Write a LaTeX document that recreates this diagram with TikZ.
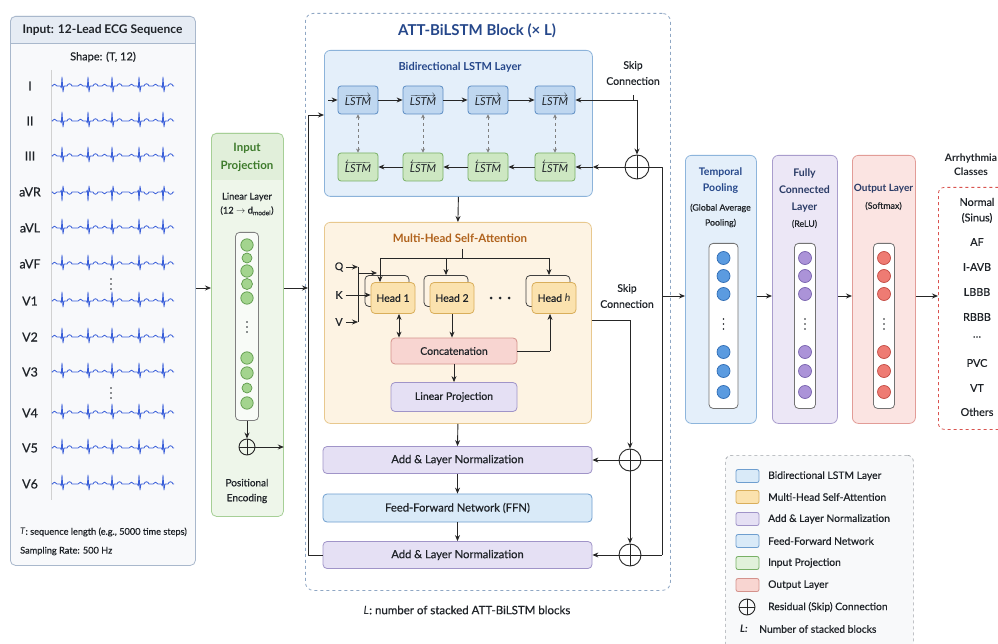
\documentclass[tikz,border=0pt]{standalone}
\usepackage{fontspec}
\setmainfont{Lato}[UprightFeatures={FakeBold=0.5}]
\usetikzlibrary{arrows.meta,calc}
\definecolor{darktx}{HTML}{1F2328}
\definecolor{panelbg}{HTML}{F8F9FB}
\definecolor{panelbd}{HTML}{A9B8CC}
\definecolor{panelhd}{HTML}{E6ECF4}
\definecolor{ecgblue}{HTML}{3A5FD9}
\definecolor{grnbg}{HTML}{EEF6EA}
\definecolor{grnhd}{HTML}{E1EFDA}
\definecolor{grnbd}{HTML}{A6CF96}
\definecolor{grntx}{HTML}{3E7B2C}
\definecolor{grnc}{HTML}{A3D48E}
\definecolor{grncb}{HTML}{5E9A4B}
\definecolor{blkbd}{HTML}{8FA7C4}
\definecolor{titblue}{HTML}{25478A}
\definecolor{lstmbg}{HTML}{E4EFFA}
\definecolor{lstmbd}{HTML}{8CB3DA}
\definecolor{fwbg}{HTML}{BFD7F0}
\definecolor{fwbd}{HTML}{5C8DC4}
\definecolor{bwbg}{HTML}{CDE7C2}
\definecolor{bwbd}{HTML}{78B065}
\definecolor{mhbg}{HTML}{FDF3E3}
\definecolor{mhbd}{HTML}{E8C88E}
\definecolor{mhtx}{HTML}{B0621C}
\definecolor{hdbg}{HTML}{FBE2AE}
\definecolor{hdbd}{HTML}{D9AE5B}
\definecolor{ccbg}{HTML}{F8D5D1}
\definecolor{ccbd}{HTML}{D4928C}
\definecolor{pubg}{HTML}{E5E0F4}
\definecolor{pubd}{HTML}{A094C8}
\definecolor{ffbg}{HTML}{D9EAF8}
\definecolor{ffbd}{HTML}{6E9ECF}
\definecolor{tpbg}{HTML}{E4EFFA}
\definecolor{tpbd}{HTML}{8DB5DC}
\definecolor{tpc}{HTML}{5B9BE0}
\definecolor{tpcb}{HTML}{2E6BB3}
\definecolor{fcbg}{HTML}{ECE7F6}
\definecolor{fcbd}{HTML}{A99DCD}
\definecolor{fcc}{HTML}{AB93D8}
\definecolor{fccb}{HTML}{7862AE}
\definecolor{olbg}{HTML}{FBE4E2}
\definecolor{olbd}{HTML}{E29C97}
\definecolor{olc}{HTML}{EE7B73}
\definecolor{olcb}{HTML}{C34B44}
\definecolor{clsbd}{HTML}{D9534F}
\definecolor{navy}{HTML}{2A3B66}
\definecolor{lgbd}{HTML}{A0A4AA}
\definecolor{lgbg}{HTML}{F8F9FA}
\newcommand\fsz[2]{\fontsize{#1}{#2}\selectfont}
\newcommand\ecgtrace[2]{%
  \draw[ecg] (53,#1) \foreach \c in {62,88,112,139,163}{
    -- ({\c-10},#1) .. controls ({\c-9},{#1-2.5*(#2)}) and ({\c-6},{#1-2.5*(#2)}) .. ({\c-5},#1)
    -- ({\c-1.5},#1) -- ({\c-0.7},{#1+2*(#2)}) -- (\c,{#1-9*(#2)}) -- ({\c+1},{#1+6*(#2)}) -- ({\c+2},#1)
    -- ({\c+5},#1) .. controls ({\c+6},{#1-3*(#2)}) and ({\c+9},{#1-3*(#2)}) .. ({\c+10},#1)} -- (174,#1);
}
\newcommand\vdotsat[2]{% x, y
  \foreach \k in {-5,0,5} \fill[darktx] (#1,{#2+\k}) circle (0.95pt);
}
\newcommand\ncol[6]{% x, width, fill, border, tag, colborder
  \node[draw=#6, fill=white, rounded corners=4pt, line width=0.8pt, minimum width=#2pt, minimum height=165pt, anchor=north, inner sep=0pt] (col#5) at (#1,243) {};
  \foreach \yy in {258,276,294,352,371,392} \draw[fill=#3, draw=#4, line width=0.7pt] (#1,\yy) circle (6.5pt);
  \vdotsat{#1}{324}
}
\tikzset{
  ecg/.style={draw=ecgblue, line width=0.8pt, line join=round},
  arr/.style={-{Stealth[length=6pt,width=5pt]}, line width=0.9pt, draw=black!85},
  ln/.style={line width=0.9pt, draw=black!85},
  txt/.style={inner sep=0pt, align=center, text=darktx},
  oplus/.style={circle, draw=black!85, line width=0.9pt, minimum size=#1, inner sep=0pt,
    path picture={\draw[line width=0.9pt,black!85] (path picture bounding box.north) -- (path picture bounding box.south) (path picture bounding box.west) -- (path picture bounding box.east);}},
  oplus/.default=22pt,
  lstmf/.style={draw=fwbd, fill=fwbg, rounded corners=3pt, line width=0.8pt, minimum width=40pt, minimum height=28pt, inner sep=0pt, font=\fsz{11}{13}, text=darktx},
  lstmb/.style={lstmf, draw=bwbd, fill=bwbg},
  headb/.style={draw=black!75, fill=mhbg, rounded corners=4pt, line width=0.8pt, minimum width=44pt, minimum height=31pt},
  headn/.style={draw=hdbd, fill=hdbg, rounded corners=4pt, line width=0.8pt, minimum width=44pt, minimum height=31pt, inner sep=0pt, font=\fsz{10.5}{12}, text=darktx},
  flat/.style={rounded corners=4pt, line width=0.8pt, inner sep=0pt, font=\fsz{11.2}{13}, text=darktx},
  norm/.style={flat, draw=pubd, fill=pubg, minimum width=269pt, minimum height=27pt},
  ffnb/.style={flat, draw=ffbd, fill=ffbg, minimum width=269pt, minimum height=28pt},
  rpanel/.style={rounded corners=6pt, line width=0.8pt, minimum height=268pt, anchor=north west, inner sep=0pt},
  swatch/.style={rounded corners=2pt, line width=0.8pt, minimum width=23pt, minimum height=13pt, inner sep=0pt},
  lgtxt/.style={txt, anchor=west, font=\fsz{10.3}{12}},
}
\begin{document}
\begin{tikzpicture}[x=1pt,y=-1pt,line join=round]
\useasboundingbox (0,0) rectangle (998,644);
\fill[white] (0,0) rectangle (998,644);

% ---------------- Left input panel
\fill[panelbg, rounded corners=5pt] (10,16) rectangle (195,565);
\fill[panelhd, rounded corners=5pt] (10,16) rectangle (195,43);
\fill[panelhd] (10,35) rectangle (195,43);
\draw[panelbd, line width=0.8pt] (10,43) -- (195,43);
\node[draw=panelbd, line width=0.8pt, rounded corners=5pt, minimum width=185pt, minimum height=549pt, anchor=north west, inner sep=0pt] (inpanel) at (10,16) {};
\node[txt, font=\bfseries\fsz{12}{14}] (intitle) at (102.5,30) {Input: 12-Lead ECG Sequence};
\node[txt, font=\fsz{11}{13}] (shape) at (103,57) {Shape: (T, 12)};
\draw[black!18, line width=0.9pt] (51,70) -- (51,500);
\foreach \nm/\yy/\s [count=\i] in {I/86/1, II/121/1, III/156/1, aVR/192/-1, aVL/228/1, aVF/264/1, V1/301/1, V2/337/1, V3/372/1, V4/413/1, V5/448/1, V6/484/1}{
  \node[txt, font=\fsz{12.5}{14}] (lead\i) at (30,\yy) {\nm};
  \ecgtrace{\yy}{\s}
}
\vdotsat{111}{284}
\vdotsat{111}{393}
\node[txt, anchor=west, font=\fsz{9.2}{11}] (tnote) at (20,532) {\textit{T}: sequence length (e.g., 5000 time steps)};
\node[txt, anchor=west, font=\fsz{9.2}{11}] (srate) at (20,551) {Sampling Rate: 500 Hz};

% ---------------- Input projection
\fill[grnbg, rounded corners=5pt] (211,133) rectangle (283,516);
\fill[grnhd, rounded corners=5pt] (211,133) rectangle (283,180);
\fill[grnhd] (211,172) rectangle (283,180);
\node[draw=grnbd, line width=0.8pt, rounded corners=5pt, minimum width=72pt, minimum height=383pt, anchor=north west, inner sep=0pt] (inproj) at (211,133) {};
\node[txt, font=\bfseries\fsz{11.5}{18}, text=grntx] (iptitle) at (247,157) {Input\\Projection};
\node[txt, font=\fsz{9.3}{14}] (linl) at (247,204) {Linear Layer\\(12 $\rightarrow$ d\textsubscript{model})};
\node[draw=black!50, fill=grnbg!40!white, rounded corners=4pt, line width=0.8pt, minimum width=23pt, minimum height=188pt, anchor=north, inner sep=0pt] (ipcol) at (247,232) {};
\foreach \yy/\r in {245/6.2,258/5,271/6.2,284/5.5,298/6.2,358/6.2,373/6.2,388/5,403/6.2}
  \draw[fill=grnc, draw=grncb, line width=0.7pt] (247,\yy) circle (\r pt);
\vdotsat{247}{327}
\node[oplus=16pt] (ipop) at (247,447) {};
\draw[arr] (ipcol.south) -- (ipop.north);
\draw[arr] (ipop.east) -- (inproj.east |- ipop);
\node[txt, font=\fsz{10}{15}] (posenc) at (247,491) {Positional\\Encoding};

\draw[arr] (inpanel.east |- 0,288) -- (inproj.west |- 0,288);

% ---------------- ATT-BiLSTM block
\node[draw=blkbd, dashed, line width=0.8pt, rounded corners=8pt, minimum width=365pt, minimum height=577pt, anchor=north west, inner sep=0pt] (attblk) at (305,13) {};
\node[txt, font=\bfseries\fsz{15}{17}, text=titblue] (atttitle) at (477,31) {ATT-BiLSTM Block (× L)};

\node[draw=lstmbd, fill=lstmbg, rounded corners=6pt, line width=0.8pt, minimum width=268pt, minimum height=146pt, anchor=north west, inner sep=0pt] (bilstm) at (324,50) {};
\node[txt, font=\bfseries\fsz{11}{13}, text=titblue] (bltitle) at (460,67) {Bidirectional LSTM Layer};
\foreach \i/\xx in {1/358,2/423,3/488,4/555}{
  \node[lstmf] (f\i) at (\xx,100) {$\overrightarrow{\textit{LSTM}}$};
  \node[lstmb] (b\i) at (\xx,167) {$\overleftarrow{\textit{LSTM}}$};
  \draw[{Stealth[length=4pt,width=4pt]}-{Stealth[length=4pt,width=4pt]}, dashed, black!50, line width=0.7pt] (f\i) -- (b\i);
}
\foreach \a/\b in {f1/f2,f2/f3,f3/f4,b4/b3,b3/b2,b2/b1} \draw[arr] (\a) -- (\b);
\coordinate (fin) at (328,100);
\draw[arr] (fin) -- (f1);

% top skip
\node[oplus=24pt] (op1) at (637,167) {};
\coordinate (s1) at (637,100);
\coordinate (s1t) at (633,95);
\draw[ln] (s1t) -- (s1t |- s1);
\draw[arr] (s1) -- (f4);
\draw[arr] (s1) -- (op1);
\coordinate (e1) at (bilstm.east |- op1);
\draw[arr] (op1) -- (e1);
\draw[arr] (e1) -- (b4);
\node[txt, font=\fsz{10.5}{16}] (skip1) at (633,73) {Skip\\Connection};

% right trunk
\coordinate (r1) at (662,167);
\coordinate (r2) at (662,296);
\coordinate (r3) at (662,460);
\coordinate (r4) at (662,555);
\draw[ln] (op1.east) -- (r1) -- (r4);

% MHSA
\node[draw=mhbd, fill=mhbg, rounded corners=6pt, line width=0.8pt, minimum width=267pt, minimum height=201pt, anchor=north west, inner sep=0pt] (mhsa) at (324,222) {};
\draw[arr] (bilstm.south) -- (mhsa.north);
\node[txt, font=\bfseries\fsz{11.5}{13}, text=mhtx] (mhtitle) at (460,238) {Multi-Head Self-Attention};
\coordinate (dtop) at (462,249);
\coordinate (dh) at (462,258);
\coordinate (d1) at (380,258);
\coordinate (d2) at (446,258);
\coordinate (d3) at (549,258);
\draw[ln] (dtop) -- (dh);
\draw[ln] (d1) -- (d3);
\node[headb] (h1b) at (387,291) {};
\node[headb] (h2b) at (446,291) {};
\node[headb] (hhb) at (548,291) {};
\node[headn] (h1) at (393,298) {Head 1};
\node[headn] (h2) at (452,298) {Head 2};
\node[headn] (hh) at (554,298) {Head \textit{h}};
\draw[arr] (d1) -- (d1 |- h1.north);
\draw[arr] (d2) -- (d2 |- h2b.north);
\draw[arr] (d3) -- (d3 |- hhb.north);
\foreach \xx in {491,500,509} \fill[darktx] (\xx,298) circle (1.5pt);

\node[txt, font=\fsz{10.5}{12}] (qn) at (339,267) {Q};
\node[txt, font=\fsz{10.5}{12}] (kn) at (339,295) {K};
\node[txt, font=\fsz{10.5}{12}] (vn) at (339,322) {V};
\coordinate (qj) at (358,267);
\coordinate (vj) at (358,322);
\coordinate (qa) at (358,273);
\coordinate (qb) at (377,273);
\draw[ln, line width=0.6pt] (qj) -- (vj);
\draw[arr, line width=0.7pt] ([xshift=3pt]qn.east) -- (qj);
\draw[arr, line width=0.7pt] ([xshift=3pt]vn.east) -- (vj);
\draw[arr, line width=0.7pt] ([xshift=3pt]kn.east) -- (h1.west |- kn.east);
\draw[arr, line width=0.7pt] (qa) -- (qb);

\node[flat, draw=ccbd, fill=ccbg, minimum width=126pt, minimum height=26pt, font=\fsz{10.5}{12}] (cc) at (454,351) {Concatenation};
\node[flat, draw=pubd, fill=pubg, minimum width=126pt, minimum height=29pt, font=\fsz{10.5}{12}] (lp) at (454,397) {Linear Projection};
\draw[{Stealth[length=6pt,width=5pt]}-{Stealth[length=6pt,width=5pt]}, ln] ([xshift=6pt]h1.south) -- ([xshift=6pt]h1.south |- cc.north);
\draw[arr] (h2.south) -- (h2.south |- cc.north);
\coordinate (cr) at (550,351);
\draw[ln] (cc.east) -- (cr);
\draw[arr] (cr) -- (cr |- hh.south);
\draw[arr] (cc) -- (lp);

% MHSA skip
\node[oplus] (op2) at (630,460) {};
\node[oplus] (op3) at (630,555) {};
\coordinate (m1) at (630,320);
\draw[ln] (mhsa.east |- m1) -- (m1);
\draw[arr] (m1) -- (op2);
\draw[arr] (op2) -- (op3);
\node[txt, font=\fsz{10.5}{16}] (skip2) at (627,296) {Skip\\Connection};

% norm / ffn
\node[norm] (an1) at (457.5,460) {Add \& Layer Normalization};
\node[ffnb] (ffn) at (457.5,508) {Feed-Forward Network (FFN)};
\node[norm] (an2) at (457.5,555) {Add \& Layer Normalization};
\draw[arr] (mhsa.south) -- (an1.north);
\draw[arr] (an1) -- (ffn);
\draw[arr] (ffn) -- (an2);
\draw[arr] (op2) -- (an1);
\draw[arr] (op3) -- (an2);
\draw[ln] (r3) -- (op2.east);
\draw[ln] (r4) -- (op3.east);

% loop back
\coordinate (lp1) at (308,555);
\coordinate (lp2) at (308,115);
\coordinate (lp3) at (308,288);
\draw[arr] (an2.west) -- (lp1) -- (lp2) -- (bilstm.west |- lp2);
\draw[arr] (inproj.east |- lp3) -- (lp3);

\node[txt, font=\fsz{11.5}{13}] (lnote) at (467,610) {\textit{L}: number of stacked ATT-BiLSTM blocks};

% ---------------- Right panels
\node[rpanel, draw=tpbd, fill=tpbg, minimum width=71pt] (tp) at (685,155) {};
\node[txt, font=\bfseries\fsz{10.5}{16}, text=titblue] (tptitle) at (720.5,181) {Temporal\\Pooling};
\node[txt, font=\fsz{8.8}{15}] (tpsub) at (720.5,215.5) {(Global Average\\Pooling)};
\ncol{723.5}{29}{tpc}{tpcb}{tp}{black!55}

\node[rpanel, draw=fcbd, fill=fcbg, minimum width=65pt] (fc) at (772,155) {};
\node[txt, font=\bfseries\fsz{10.5}{17}, text=navy] (fctitle) at (804.5,190) {Fully\\Connected\\Layer};
\node[txt, font=\fsz{8.8}{10}] (fcsub) at (804.5,224) {(ReLU)};
\ncol{805}{21}{fcc}{fccb}{fc}{black!55}

\node[rpanel, draw=olbd, fill=olbg, minimum width=63pt] (out) at (852,155) {};
\node[txt, font=\bfseries\fsz{10}{12}, text=navy] (outtitle) at (883.5,189) {Output Layer};
\node[txt, font=\fsz{8.8}{10}] (outsub) at (883.5,206) {(Softmax)};
\ncol{884}{21}{olc}{olcb}{out}{black!55}

\node[draw=clsbd, dashed, fill=white, rounded corners=6pt, line width=0.8pt, minimum width=72pt, minimum height=242pt, anchor=north west, inner sep=0pt] (cls) at (938,187) {};
\node[txt, font=\bfseries\fsz{10.3}{14}] (clstitle) at (971,165) {Arrhythmia\\Classes};
\foreach \t/\yy [count=\i] in {Normal/202,{(Sinus)}/218,AF/242,I-AVB/267,LBBB/292,RBBB/317,{\ldots}/337,PVC/363,VT/388,Others/412}
  \node[txt, font=\fsz{10.8}{12}] (cl\i) at (977,\yy) {\t};

\draw[arr] (r2) -- (tp.west |- r2);
\draw[arr] (tp.east |- r2) -- (fc.west |- r2);
\draw[arr] (fc.east |- r2) -- (out.west |- r2);
\draw[arr] (out.east |- r2) -- (cls.west |- r2);

% ---------------- Legend
\node[draw=lgbd, dashed, fill=lgbg, rounded corners=6pt, line width=0.7pt, minimum width=188pt, minimum height=200pt, anchor=north west, inner sep=0pt] (legend) at (725,455) {};
\foreach \fc/\bc/\t/\yy [count=\i] in {ffbg/ffbd/Bidirectional LSTM Layer/476, hdbg/hdbd/Multi-Head Self-Attention/497, pubg/pubd/Add \& Layer Normalization/519, ffbg/ffbd/Feed-Forward Network/541, bwbg!60!white/bwbd/Input Projection/563, ccbg/ccbd/Output Layer/585}{
  \node[swatch, fill=\fc, draw=\bc] (sw\i) at (747.5,\yy) {};
  \node[lgtxt] (lg\i) at (768,\yy) {\t};
}
\node[oplus=16pt] (lgop) at (747,607) {};
\node[lgtxt] (lg7) at (768,607) {Residual (Skip) Connection};
\node[txt, font=\bfseries\itshape\fsz{10.3}{12}] (lgL) at (744,629) {L:};
\node[lgtxt] (lg8) at (759,629) {Number of stacked blocks};
\end{tikzpicture}
\end{document}
